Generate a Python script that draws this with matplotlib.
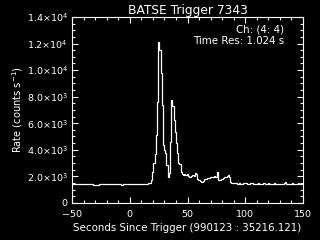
"""BATSE trigger 7343 light curve, channel 4."""

import matplotlib

matplotlib.use("Agg")
import numpy as np
from matplotlib import pyplot as plt
from matplotlib.ticker import FixedLocator, MultipleLocator

BIN_WIDTH = 1.024  # s
FIRST_EDGE = -50.176  # s

# counts per second, one value per 1.024 s bin
pre_burst = [
    1410, 1400, 1420, 1410, 1400, 1430, 1450, 1420, 1410, 1400,
    1420, 1410, 1400, 1390, 1410, 1420, 1400, 1380, 1340, 1320,
    1350, 1330, 1360, 1400, 1410, 1400, 1390, 1410, 1420, 1400,
    1410, 1430, 1450, 1420, 1400, 1390, 1410, 1400, 1420, 1410,
    1400, 1390, 1360, 1380, 1400, 1410, 1400, 1390, 1380, 1400,
    1410, 1420, 1400, 1410, 1430, 1420, 1410, 1400, 1420, 1430,
    1410, 1420, 1440, 1450, 1470, 1480, 1520,
]
burst = [
    1700, 2300, 3000, 3700, 5100, 7600, 12100, 11500, 9800, 7400,
    4350, 4000, 3730, 2850, 1960, 2220, 4600, 7750, 7300, 6240,
    5360, 4480, 3730, 2970, 2900, 2300, 2200, 2100, 2180, 2100,
    2200, 2000, 1920, 1950, 2020, 2100, 2050, 2220, 2150, 1800,
    1750, 1650, 1580, 1560, 1650, 1780, 1800, 1850, 1880, 1900,
    1920, 1960, 1980, 2000, 1920, 1950, 2300, 1750, 1730, 1780,
    1820, 1850, 1950, 1980, 2050, 2080, 1950, 1600, 1520, 1500,
    1520, 1500, 1470, 1440, 1500, 1450, 1400, 1430, 1480, 1500,
]
tail = [
    1460, 1440, 1420, 1450, 1480, 1460, 1400, 1380, 1420, 1440,
    1460, 1450, 1430, 1440, 1450, 1460, 1440, 1450, 1450, 1460,
    1440, 1430, 1440, 1450, 1460, 1450, 1440, 1450, 1440, 1430,
    1440, 1450, 1460, 1570, 1450, 1440, 1430, 1450, 1440, 1460,
    1450, 1440, 1430, 1450, 1460, 1440, 1450, 1440, 1450,
]

y_ticks = [0, 2000, 4000, 6000, 8000, 10000, 12000, 14000]
y_tick_labels = [
    "0",
    r"2.0$\times$10$^{3}$",
    r"4.0$\times$10$^{3}$",
    r"6.0$\times$10$^{3}$",
    r"8.0$\times$10$^{3}$",
    r"1.0$\times$10$^{4}$",
    r"1.2$\times$10$^{4}$",
    r"1.4$\times$10$^{4}$",
]

rates = np.array(pre_burst + burst + tail, dtype=float)
edges = FIRST_EDGE + BIN_WIDTH * np.arange(len(rates) + 1)

fg = "white"
plt.rcParams["font.family"] = ["DejaVu Sans"]
plt.rcParams["mathtext.fontset"] = "dejavusans"

fig = plt.figure(figsize=(3.2, 2.4), dpi=100, facecolor="black")
ax = fig.add_axes((0.225, 0.155, 0.722, 0.774), facecolor="black")

ax.stairs(rates, edges, color=fg, linewidth=0.9, baseline=None)

ax.set_xlim(-50, 150)
ax.set_ylim(0, 14000)
ax.xaxis.set_major_locator(MultipleLocator(50))
ax.xaxis.set_minor_locator(MultipleLocator(10))
ax.yaxis.set_major_locator(FixedLocator(y_ticks))
ax.yaxis.set_minor_locator(MultipleLocator(500))
ax.set_yticklabels(y_tick_labels)

for spine in ax.spines.values():
    spine.set_color(fg)
    spine.set_linewidth(0.8)
ax.tick_params(which="both", direction="in", top=True, right=True,
               colors=fg, width=0.8, labelsize=6.8, pad=3)
ax.tick_params(axis="x", which="major", pad=5)
ax.tick_params(which="major", length=4.3)
ax.tick_params(which="minor", length=2.2)

ax.set_title("BATSE Trigger 7343", color=fg, fontsize=8.8, pad=2.5)
ax.set_xlabel("Seconds Since Trigger (990123 : 35216.121)", color=fg,
              fontsize=7.4, labelpad=3)
ax.set_ylabel(r"Rate (counts s$^{-1}$)", color=fg, fontsize=7.1, labelpad=1)

ax.text(0.92, 0.935, "Ch: (4: 4)", transform=ax.transAxes, color=fg,
        fontsize=7.4, ha="right", va="center")
ax.text(0.92, 0.87, "Time Res: 1.024 s", transform=ax.transAxes, color=fg,
        fontsize=7.4, ha="right", va="center")

fig.savefig("out.png", dpi=100, facecolor="black")
